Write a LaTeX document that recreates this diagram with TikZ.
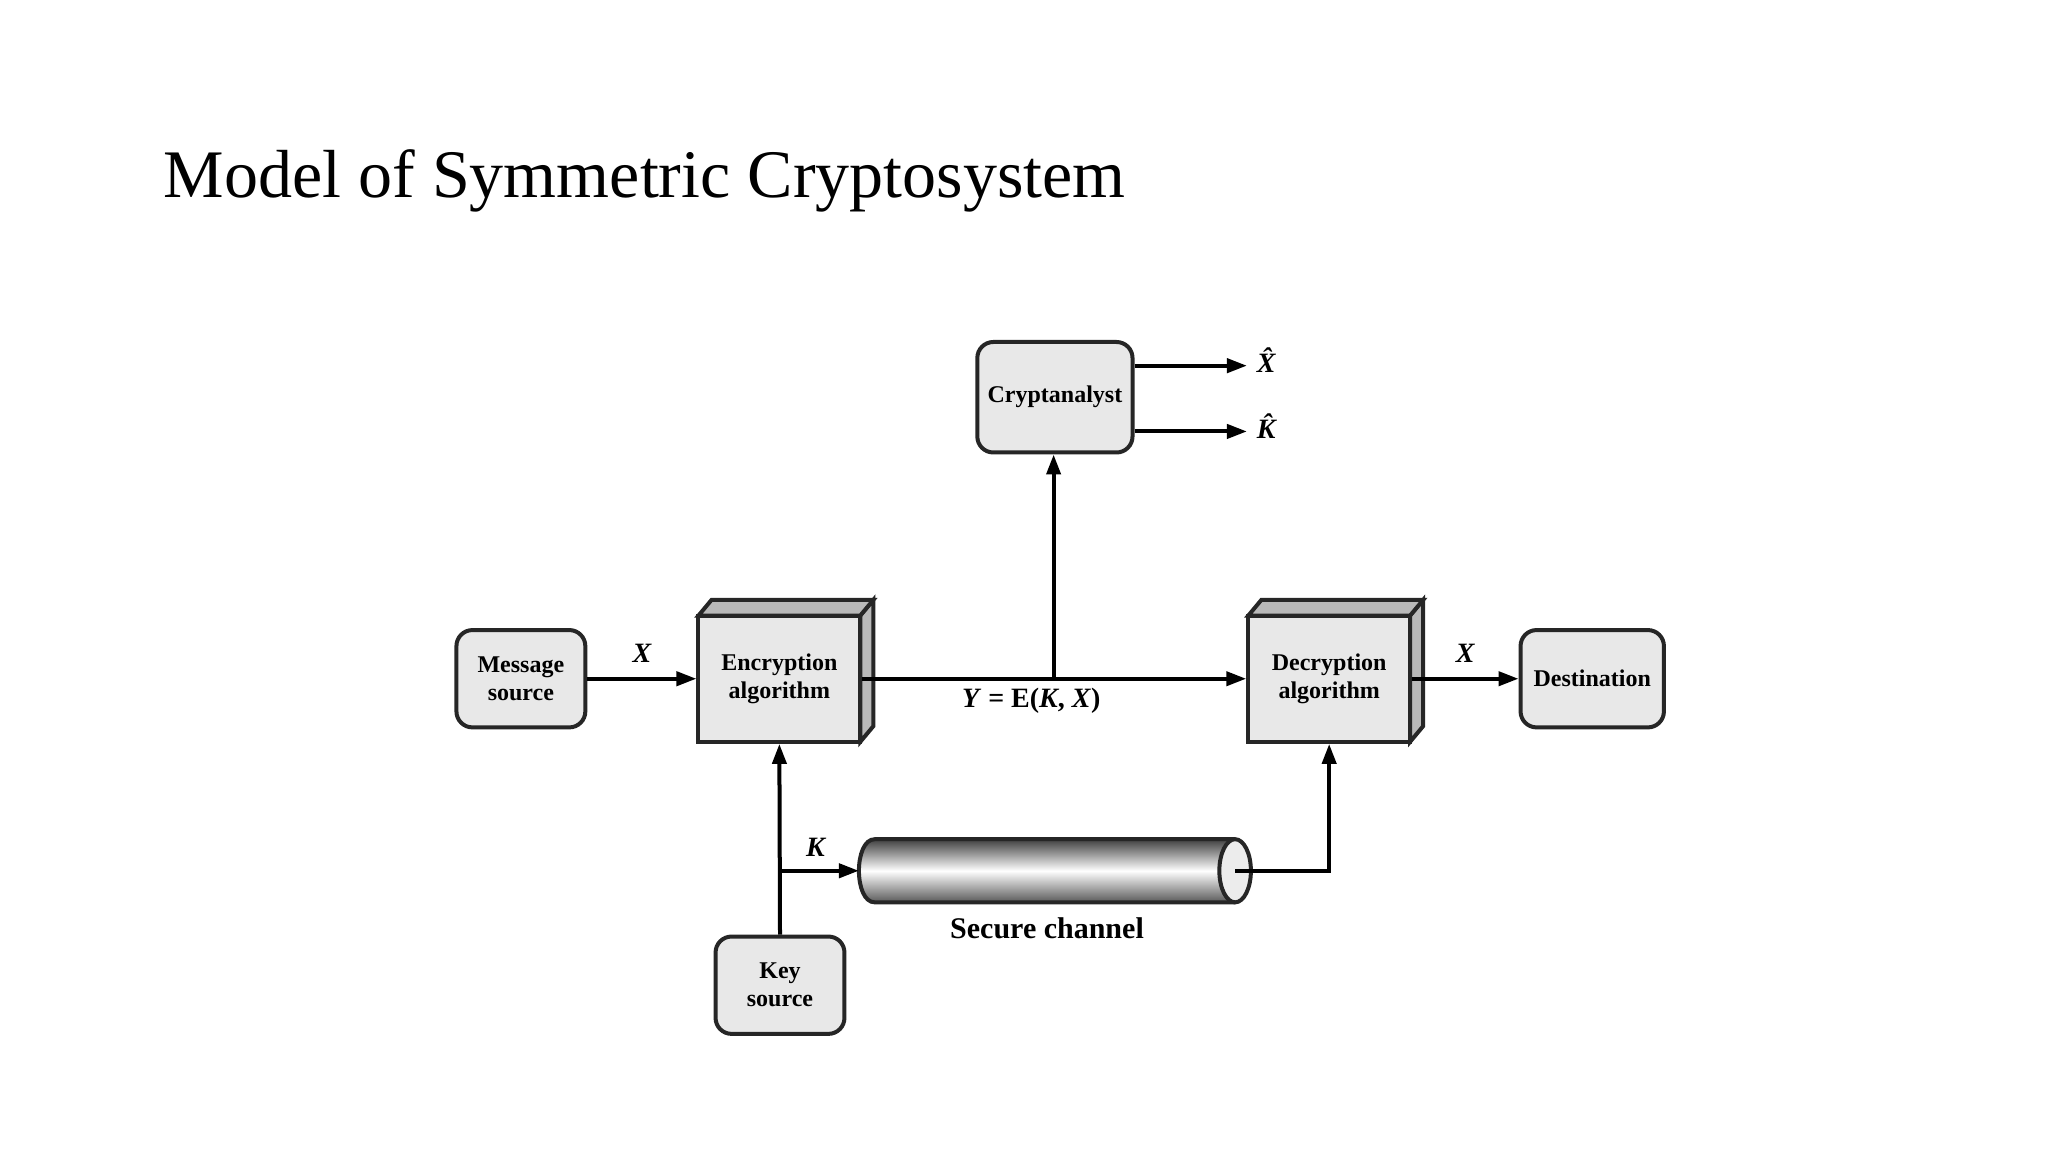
\documentclass[tikz,border=0pt]{standalone}
\usepackage{fontspec}
\setmainfont{Liberation Serif}
\usetikzlibrary{arrows.meta}
\begin{document}
\begin{tikzpicture}[x=0.6575pt,y=-0.6575pt,
  line width=2pt,
  >={Triangle[length=10pt,width=7pt]},
  rbox/.style={draw=black!85,fill=gray!18,rounded corners=8pt,font=\fontsize{12}{14}\selectfont\bfseries,align=center,inner sep=0pt},
  fbox/.style={draw=black!85,fill=gray!18,font=\fontsize{12}{14}\selectfont\bfseries,align=center,inner sep=0pt},
  lab/.style={font=\fontsize{14}{16}\selectfont\bfseries}]
\useasboundingbox (0,0) rectangle (1557,876);
\node[anchor=base west,font=\fontsize{34}{38}\selectfont] (title) at (118,150) {Model of Symmetric Cryptosystem};
\begin{scope}[shift={(-4,-4)}]
% 3D boxes
\foreach \n/\xa/\t in {enc/535/Encryption\\algorithm, dec/953/Decryption\\algorithm}{
  \fill[gray!55,draw=black!85] (\xa+123,472)--(\xa+133,460)--(\xa+133,556)--(\xa+123,568)--cycle;
  \fill[gray!55,draw=black!85] (\xa,472)--(\xa+10,460)--(\xa+133,460)--(\xa+123,472)--cycle;
  \node[fbox,minimum width=123*0.6575pt,minimum height=96*0.6575pt] (\n) at (\xa+61.5,520) {\t};
}
\node[rbox,minimum width=98*0.6575pt,minimum height=74*0.6575pt] (msg) at (400,520) {Message\\source};
\node[rbox,minimum width=109*0.6575pt,minimum height=74*0.6575pt] (dst) at (1214.5,520) {Destination};
\node[rbox,minimum width=118*0.6575pt,minimum height=84*0.6575pt] (cry) at (806,306) {Cryptanalyst};
\node[rbox,minimum width=98*0.6575pt,minimum height=74*0.6575pt] (key) at (597,753) {Key\\source};
% cylinder
\shade[top color=black!75,bottom color=black!65,middle color=white]
  (943,642) -- (669,642) .. controls (653,642) and (653,690) .. (669,690) -- (943,690) -- cycle;
\draw[black!85] (943,642) -- (669,642) .. controls (653,642) and (653,690) .. (669,690) -- (943,690);
\draw[black!85,fill=gray!15] (943,666) ellipse[x radius=12,y radius=24];
\coordinate (cylL) at (657,666);
\coordinate (cylR) at (943,666);
% connectors
\draw[->] (msg.east) -- (enc.west) node[midway,above=4pt,lab]{\itshape X};
\draw[->] (enc.east) -- (dec.west);
\node[lab] (y) at (788,537) {\textit{Y} = E(\textit{K}, \textit{X})};
\coordinate (j) at (805,519);
\draw[->] (j) -- (cry.south -| j);
\draw[->] (dec.east) -- (dst.west) node[midway,above=4pt,lab]{\itshape X};
\coordinate (xh) at (952,282);
\coordinate (kh) at (952,332);
\draw[->] (cry.east |- xh) -- (xh);
\draw[->] (cry.east |- kh) -- (kh);
\node[lab,anchor=west] (xhl) at (953,278) {\itshape\^{X}};
\node[lab,anchor=west] (khl) at (953,328) {\itshape\^{K}};
\draw[->] (key.north) -- (enc.south);
\coordinate (b) at (597,666);
\draw[->] (b) -- (cylL) node[pos=0.45,above=3pt,lab]{\itshape K};
\draw[->] (cylR) -| (dec.south);
\node[lab,font=\fontsize{15}{17}\selectfont\bfseries] (sc) at (800,710) {Secure channel};
\end{scope}
\end{tikzpicture}
\end{document}
